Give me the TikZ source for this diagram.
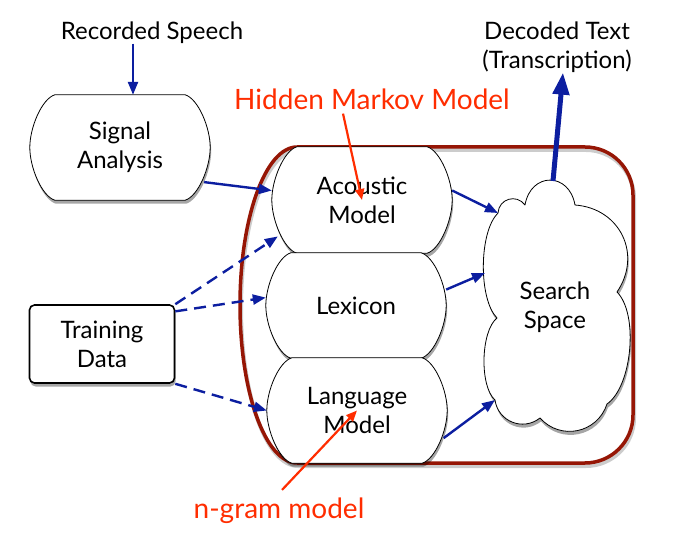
\documentclass[tikz,border=0pt]{standalone}
\usepackage{fontspec}
\setmainfont{Lato}
\usetikzlibrary{shadows,arrows.meta}
\definecolor{navy}{RGB}{12,30,160}
\definecolor{hired}{RGB}{255,45,0}
\definecolor{boxred}{RGB}{150,22,5}
\pgfdeclarelayer{bg}
\pgfdeclarelayer{shp}
\pgfsetlayers{bg,shp,main}
\newcommand\capsuleof[1]{%
  \begin{pgfonlayer}{shp}
  \path[capsh] ([xshift=25pt]#1.north west) -- ([xshift=-25pt]#1.north east)
    .. controls ([xshift=-12pt,yshift=-4pt]#1.north east) and ([yshift=20pt]#1.east) .. (#1.east)
    .. controls ([yshift=-20pt]#1.east) and ([xshift=-12pt,yshift=4pt]#1.south east) .. ([xshift=-25pt]#1.south east)
    -- ([xshift=25pt]#1.south west)
    .. controls ([xshift=12pt,yshift=4pt]#1.south west) and ([yshift=-20pt]#1.west) .. (#1.west)
    .. controls ([yshift=20pt]#1.west) and ([xshift=12pt,yshift=-4pt]#1.north west) .. cycle;
  \end{pgfonlayer}}
\begin{document}
\begin{tikzpicture}[x=1pt,y=-1pt,
  lbl/.style={font=\fontsize{24}{29}\selectfont, align=center, inner sep=0pt},
  redlbl/.style={font=\fontsize{28}{32}\selectfont, text=hired, inner sep=0pt},
  shad/.style={drop shadow={shadow xshift=1pt,shadow yshift=-3.5pt,fill=black,opacity=0.35}},
  capsule/.style={lbl, rectangle, minimum width=180pt, minimum height=106pt},
  capsh/.style={draw, fill=white, line width=0.8pt, line join=round, shad},
  trainbox/.style={lbl, rectangle, rounded corners=5pt, draw, fill=white, line width=1.6pt,
    minimum width=145pt, minimum height=78pt, shad},
  cont/.style={draw=boxred, line width=3.5pt},
  flow/.style={draw=navy, line width=2.4pt, -{Triangle[length=13pt,width=10pt]}},
  dflow/.style={flow, dash pattern=on 12pt off 7pt},
  thickflow/.style={draw=navy, line width=5pt, -{Triangle[length=22pt,width=16pt]}},
  note/.style={draw=hired, line width=2.2pt, -{Triangle[length=11pt,width=9pt]}}
]
\useasboundingbox (0,0) rectangle (683,545);
\begin{pgfonlayer}{bg}
\fill[white] (0,0) rectangle (683,545);
% container shadow and outline
\begin{scope}[shift={(1,3)}, draw=black, opacity=0.2, line width=4pt]
  \draw[rounded corners=48pt] (297,147) -- (633,147) -- (633,463) -- (297,463);
  \draw (297,463) .. controls (265.5,463) and (240,392.3) .. (240,305)
        .. controls (240,217.7) and (265.5,147) .. (297,147);
\end{scope}
\draw[cont, rounded corners=48pt] (297,147) -- (633,147) -- (633,463) -- (297,463);
\draw[cont] (297,463) .. controls (265.5,463) and (240,392.3) .. (240,305)
      .. controls (240,217.7) and (265.5,147) .. (297,147);
\end{pgfonlayer}

% nodes
\node[lbl] (rec) at (152,32.5) {Recorded Speech};
\node[capsule, minimum height=105pt] (sig) at (120,147.5) {Signal\\Analysis};
\capsuleof{sig}
\node[capsule] (ac) at (362,200) {Acoustic\\Model};
\capsuleof{ac}
\node[capsule, minimum height=105pt] (lex) at (356,305.5) {Lexicon};
\capsuleof{lex}
\node[capsule, minimum height=105pt] (lang) at (357,410.5) {Language\\Model};
\capsuleof{lang}
\node[trainbox] (train) at (102,344) {Training\\Data};

% search space cloud
\coordinate (sN1) at (498,213);
\coordinate (sL) at (485,273);
\coordinate (sN7) at (495,400);
\coordinate (sTop) at (553,181);
\begin{pgfonlayer}{shp}
\path[capsh] (sN1) to[bend left=70, looseness=1.3] (525,205)
  to[bend left=80, looseness=1.73] (575,205)
  to[bend left=60, looseness=1.2] (617,292)
  to[bend left=50, looseness=0.7] (607,404)
  to[bend left=60, looseness=1.15] (540,418)
  to[bend left=60, looseness=1.15] (sN7)
  to[bend left=50, looseness=0.65] (497,318)
  to[bend left=45, looseness=0.65] (sN1) -- cycle;
\end{pgfonlayer}
\node[lbl] (search) at (555,307) {Search\\Space};

\node[lbl] (dec) at (557,47) {Decoded Text\\(Transcription)};
\node[redlbl] (hmm) at (372,99) {Hidden Markov Model};
\node[redlbl] (ngram) at (279,511) {n-gram model};

% connectors
\draw[flow] (rec.south -| 133,0) -- (sig.north -| 133,0);
\draw[flow] ([xshift=-6pt]sig.-21) -- (ac.174);
\draw[dflow] (train.north east) -- ([xshift=6pt]ac.202);
\draw[dflow] (train.24) -- (lex.175);
\draw[dflow] (train.south east) -- (lang.west);
\draw[flow] (ac.6) -- (sN1);
\draw[flow] (lex.10) -- (sL);
\draw[flow] ([xshift=-3.5pt]lang.-17) -- (sN7);
\draw[thickflow] (sTop) -- ([xshift=6pt]dec.south);
\draw[note] ([xshift=-29pt,yshift=-4pt]hmm.south) -- (ac.center);
\draw[note] ([xshift=3pt,yshift=8pt]ngram.north) -- (lang.center);
\end{tikzpicture}
\end{document}
